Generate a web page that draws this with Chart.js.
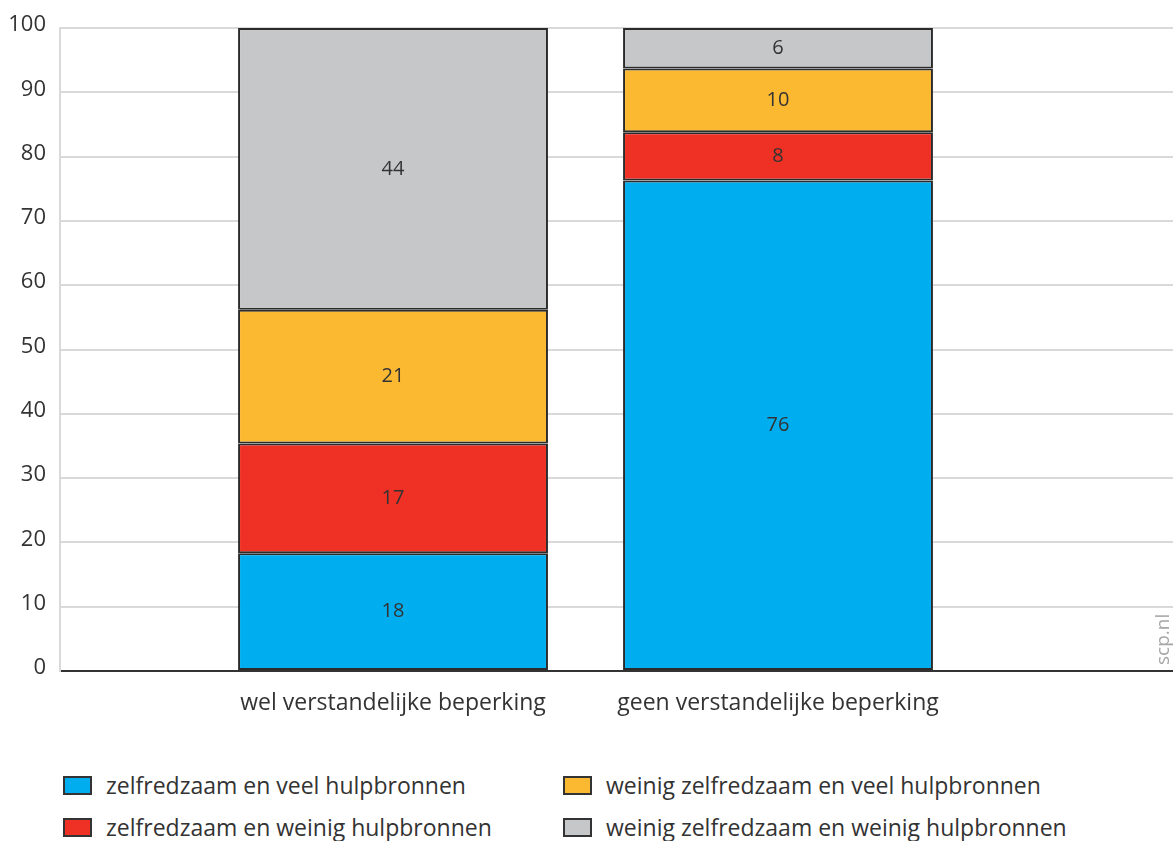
<!DOCTYPE html>
<html>
<head>
<meta charset="utf-8">
<script src="https://cdn.jsdelivr.net/npm/chart.js@4/dist/chart.umd.min.js"></script>
<style>
  body { margin:0; background:#fff; font-family:"Open Sans", sans-serif; color:#333; }
  #wrap { position:relative; width:1173px; height:730px; }
  .leg { position:absolute; display:flex; align-items:center; font-size:23px; color:#333; white-space:nowrap; }
  .leg i { display:inline-block; width:25px; height:15px; border:2px solid #333; margin-right:14px; }
</style>
</head>
<body>
<div id="wrap"><canvas id="chart"></canvas></div>
<div id="legend"></div>
<script>
// data
const categories = ['wel verstandelijke beperking', 'geen verstandelijke beperking'];
const seriesNames = [
  'zelfredzaam en veel hulpbronnen',
  'zelfredzaam en weinig hulpbronnen',
  'weinig zelfredzaam en veel hulpbronnen',
  'weinig zelfredzaam en weinig hulpbronnen'
];
const zelfVeel     = [18.3, 76.3];
const zelfWeinig   = [17.1, 7.5];
const weinigVeel   = [20.8, 9.9];
const weinigWeinig = [43.8, 6.3];
const yTicks = [0,10,20,30,40,50,60,70,80,90,100];

const colors = ['#00aeef', '#ee3124', '#fbb931', '#c6c7c9'];
const series = [zelfVeel, zelfWeinig, weinigVeel, weinigWeinig];

const datasets = series.map((vals,i)=>({
  label: seriesNames[i],
  data: vals.map((v,j)=>({x:j, y:v})),
  backgroundColor: colors[i],
  borderColor: '#2b2b2b',
  borderWidth: 2,
  borderSkipped: false,
  barPercentage: 0.805,
  categoryPercentage: 1
}));

const valueLabels = {
  id: 'valueLabels',
  afterDatasetsDraw(chart){
    const ctx = chart.ctx;
    ctx.save();
    ctx.font = '20px "Open Sans"';
    ctx.fillStyle = '#333';
    ctx.textAlign = 'center';
    ctx.textBaseline = 'middle';
    chart.data.datasets.forEach((ds,i)=>{
      chart.getDatasetMeta(i).data.forEach((bar,j)=>{
        const p = bar.getCenterPoint();
        ctx.fillText(Math.round(ds.data[j].y), p.x, p.y);
      });
    });
    // source
    const a = chart.chartArea;
    ctx.font = '19px "Open Sans"';
    ctx.fillStyle = '#a6a6a6';
    ctx.translate(a.right - 9, a.bottom - 6);
    ctx.rotate(-Math.PI/2);
    ctx.textAlign = 'left';
    ctx.fillText('scp.nl', 0, 0);
    ctx.restore();
  }
};

new Chart(document.getElementById('chart'), {
  type: 'bar',
  data: { datasets },
  plugins: [valueLabels],
  options: {
    responsive: true,
    maintainAspectRatio: false,
    animation: false,
    layout: { padding: { top: 28, right: 0, left: 0, bottom: 0 } },
    plugins: { legend: { display:false }, tooltip: { enabled:false } },
    scales: {
      x: {
        type: 'linear',
        min: -0.865, max: 2.026,
        offset: false,
        bounds: 'data',
        stacked: true,
        grid: { display:false, drawTicks:false, offset:false },
        border: { color:'#333', width:2 },
        afterBuildTicks: s => { s.ticks = categories.map((c,i)=>({value:i})); },
        afterFit: s => { s.height = 59; },
        ticks: {
          padding: 19,
          color: '#333',
          font: { family:'"Open Sans"', size:23 },
          callback: v => categories[v]
        }
      },
      y: {
        min: 0, max: 100,
        stacked: true,
        afterBuildTicks: s => { s.ticks = yTicks.map(v=>({value:v})); },
        afterFit: s => { s.width = 60; },
        grid: { color: c => c.tick && c.tick.value===0 ? 'rgba(0,0,0,0)' : '#d9d9d9', lineWidth: 2, drawTicks:false },
        border: { color:'#d9d9d9', width:2 },
        ticks: { padding: 14, labelOffset: -3, color:'#333', font: { family:'"Open Sans"', size:22 } }
      }
    }
  }
});

// legend in two columns, column-major like the original
const legendPos = [[63,776],[63,818],[563,776],[563,818]];
const legend = document.getElementById('legend');
seriesNames.forEach((n,i)=>{
  const d = document.createElement('div');
  d.className = 'leg';
  d.style.left = legendPos[i][0]+'px';
  d.style.top = (legendPos[i][1]-7)+'px';
  d.innerHTML = `<i style="background:${colors[i]}"></i>${n}`;
  legend.appendChild(d);
});
</script>
</body>
</html>
